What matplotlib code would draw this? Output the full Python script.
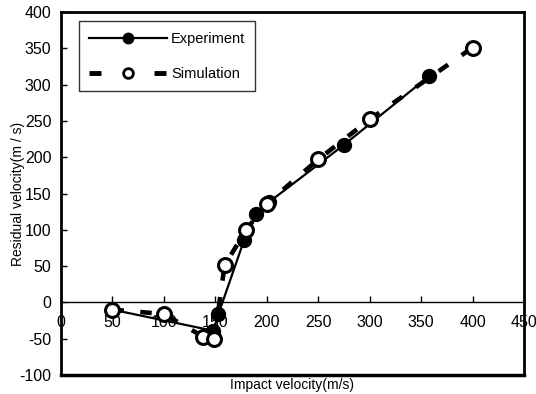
import matplotlib.pyplot as plt
from matplotlib.lines import Line2D

plt.rcParams['font.family'] = ['Liberation Sans', 'DejaVu Sans']
plt.rcParams['axes.unicode_minus'] = False

# data
exp_x = [50, 148, 153, 178, 190, 202, 275, 358]
exp_y = [-10, -39, -16, 86, 122, 138, 217, 312]
sim_x = [50, 100, 138, 149, 159, 180, 200, 250, 300, 400]
sim_y = [-10, -16, -47, -51, 51, 100, 136, 197, 252, 351]

xticks = [0, 50, 100, 150, 200, 250, 300, 350, 400, 450]
yticks = [-100, -50, 0, 50, 100, 150, 200, 250, 300, 350, 400]

fig = plt.figure(figsize=(5.36, 3.94), dpi=100)
ax = fig.add_axes([0.1138, 0.0482, 0.8638, 0.9213])

ax.plot(exp_x, exp_y, '-', color='k', lw=1.6, marker='o', ms=10,
        mfc='k', mec='k', zorder=3)
ax.plot(sim_x, sim_y, color='k', lw=3.3, dashes=(2.5, 3.6), marker='o', ms=10,
        mfc='white', mec='k', mew=2.2, zorder=4)

ax.set_xlim(0, 450)
ax.set_ylim(-100, 400)
ax.set_xticks(xticks)
ax.set_yticks(yticks)

for s in ['left', 'top', 'right']:
    ax.spines[s].set_linewidth(2)
ax.spines['bottom'].set_position(('data', 0))
ax.spines['bottom'].set_linewidth(1)
ax.plot([0, 1], [0, 0], transform=ax.transAxes, color='k', lw=2.5,
        clip_on=False, zorder=5)

ax.tick_params(axis='both', direction='in', length=4, width=1, labelsize=11.5)
ax.tick_params(axis='x', pad=9)
ax.tick_params(axis='y', pad=7)

ax.set_xlabel('Impact velocity(m/s)', fontsize=10)
ax.xaxis.set_label_coords(0.5, -0.008)
ax.set_ylabel('Residual velocity(m / s)', fontsize=10)
ax.yaxis.set_label_coords(-0.078, 0.5)

# legend handles drawn like the reference sample
h_exp = Line2D([], [], color='k', lw=1.6, marker='o', ms=7.5, mfc='k', mec='k')
h_sim = Line2D([], [], color='k', lw=3.5, dashes=(2.47, 10.9), marker='o',
               ms=7, mfc='white', mec='k', mew=2)
leg = ax.legend([h_exp, h_sim], ['Experiment', 'Simulation'], loc='upper left',
                bbox_to_anchor=(0.039, 0.974), borderaxespad=0, fontsize=10.5,
                frameon=True, fancybox=False, edgecolor='k',
                handlelength=5.3, borderpad=0.7, labelspacing=1.45,
                handletextpad=0.3)
leg.get_frame().set_linewidth(1)

fig.savefig('out.png', dpi=100)
